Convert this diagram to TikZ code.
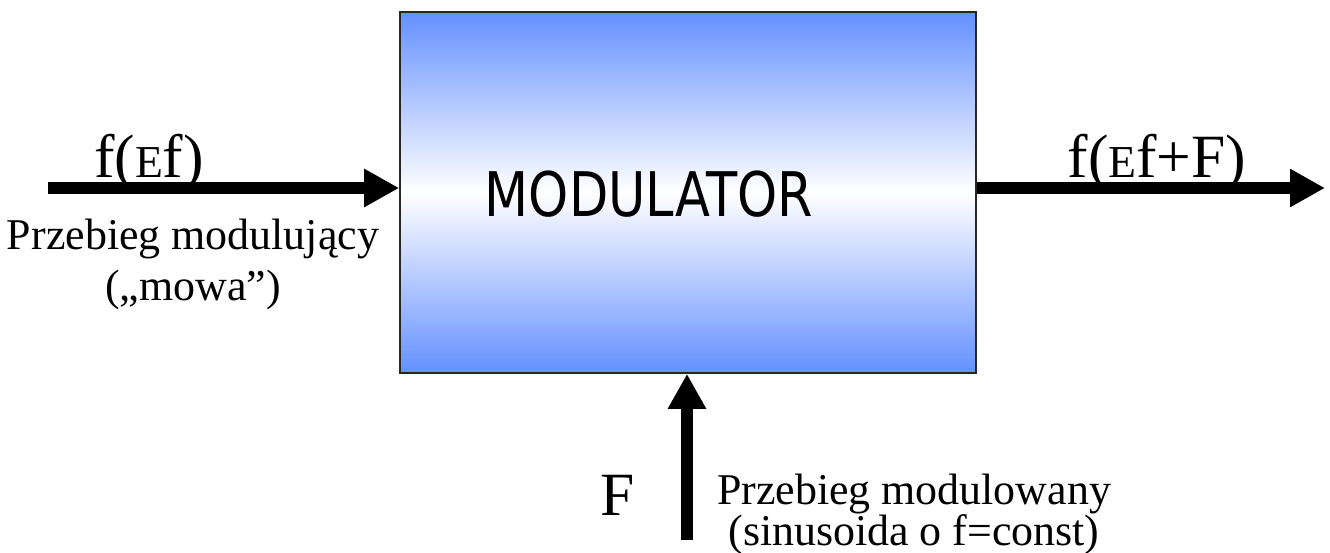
\documentclass[tikz,border=0pt]{standalone}
\usepackage{fontspec}
\setmainfont{Liberation Serif}
\newfontfamily\boxfont[FakeStretch=0.83]{DejaVu Sans}
\usetikzlibrary{arrows.meta, positioning}

\definecolor{modblue}{RGB}{100,144,255}

\begin{document}
\begin{tikzpicture}[
  x=0.02cm, y=-0.02cm,
  modbox/.style={rectangle, draw=black!85, line width=1pt,
                 top color=modblue, bottom color=modblue, middle color=white,
                 minimum width=11.52cm, minimum height=7.22cm},
  boxtext/.style={font=\boxfont\fontsize{35}{35}\selectfont, inner sep=0pt},
  bigarrow/.style={line width=6.8pt,
                   -{Triangle[length=0.7cm, width=0.72cm]}},
  sig/.style={font=\fontsize{35}{35}\selectfont, inner sep=0pt, anchor=base},
  desc/.style={font=\fontsize{25}{25}\selectfont, inner sep=0pt,
               align=center, anchor=base}
]
\useasboundingbox (0,0) rectangle (1330,552);

% Modulator block
\node[modbox] (mod) at (688,192.5) {};
\node[boxtext] (modtxt) at ([xshift=-0.78cm, yshift=-0.04cm]mod.center)
  {MODULATOR};

% Free ends of the three signal lines
\coordinate (in)      at (48,188);
\coordinate (out)     at (1325,188);
\coordinate (carrier) at (687,540);

\draw[bigarrow] (in) -- (in -| mod.west);
\draw[bigarrow] (out -| mod.east) -- (out);
\draw[bigarrow] (carrier) -- (carrier |- mod.south);

% Signal labels
\node[sig] (fin)  at (149,177)
  {f({\fontsize{26}{26}\selectfont E}f)};
\node[sig] (fout) at (1157,177)
  {f({\fontsize{26}{26}\selectfont E}f+F)};
\node[sig] (fcar) at (618,515) {F};

% Descriptions (anchored on the last line)
\node[desc] (inlbl) at (193,300)
  {Przebieg modulujący\\[4pt] („mowa”)};
\node[desc] (carlbl) at (914,545)
  {Przebieg modulowany\\[-2pt] (sinusoida o f=const)};

\end{tikzpicture}
\end{document}
